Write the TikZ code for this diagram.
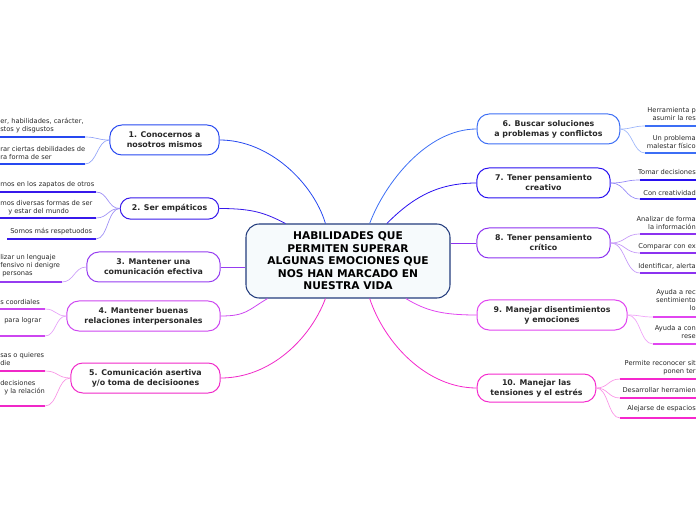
\documentclass[tikz,border=0pt]{standalone}
\usepackage{fontspec}
\setmainfont{DejaVu Sans}

\definecolor{ccore}{RGB}{35,60,125}
\definecolor{corefill}{RGB}{246,250,252}
\definecolor{cone}{RGB}{38,72,240}
\definecolor{ctwo}{RGB}{55,25,235}
\definecolor{cthree}{RGB}{150,60,240}
\definecolor{cfour}{RGB}{205,70,240}
\definecolor{cfive}{RGB}{240,40,200}
\definecolor{csix}{RGB}{60,110,245}
\definecolor{cseven}{RGB}{40,15,240}
\definecolor{ceight}{RGB}{140,50,240}
\definecolor{cnine}{RGB}{225,70,240}
\definecolor{cten}{RGB}{245,40,205}
\definecolor{inkgray}{RGB}{40,40,40}

\tikzset{
  core/.style={draw=ccore, fill=corefill, line width=0.8pt, rounded corners=10pt,
    minimum width=153pt, minimum height=55.5pt, align=center, text=black,
    font=\fontsize{8}{9.4}\selectfont\bfseries, inner sep=1pt},
  branch/.style={draw=#1, fill=white, line width=0.75pt, rounded corners=9pt,
    minimum height=22.5pt, align=center, text=inkgray,
    font=\fontsize{5.9}{7.5}\selectfont\bfseries, inner sep=1pt},
  leaf/.style={inner sep=0pt, text=inkgray, font=\fontsize{5}{6}\selectfont},
  link/.style={draw=#1, line width=0.6pt},
  twig/.style={draw=#1!50, line width=0.5pt},
  leafrule/.style={draw=#1, line width=1.4pt},
}

\begin{document}
\begin{tikzpicture}[x=0.75pt,y=0.75pt,yscale=-1,xscale=1]
\path[use as bounding box] (0,0) rectangle (696,520);

% Central Node
\node[core] (hab) at (348,261) {HABILIDADES QUE\\PERMITEN SUPERAR\\ALGUNAS EMOCIONES QUE\\NOS HAN MARCADO EN\\NUESTRA VIDA};

% Branch Nodes, left
\node[branch=cone, minimum width=82pt] (cono) at (164.5,140) {1. Conocernos a\\nosotros mismos};
\node[branch=ctwo, minimum width=74pt, minimum height=16pt, rounded corners=8pt] (empa) at (169.5,208.5) {2. Ser empáticos};
\node[branch=cthree, minimum width=100pt] (comu) at (153.5,267) {3. Mantener una\\comunicación efectiva};
\node[branch=cfour, minimum width=115pt] (rela) at (143.5,316) {4. Mantener buenas\\relaciones interpersonales};
\node[branch=cfive, minimum width=112pt] (aser) at (145.5,378) {5. Comunicación asertiva\\y/o toma de decisioones};
% Branch Nodes, right
\node[branch=csix, minimum width=107pt] (solu) at (548.5,129) {6. Buscar soluciones\\a problemas y conflictos};
\node[branch=cseven, minimum width=100pt] (crea) at (543.5,183) {7. Tener pensamiento\\creativo};
\node[branch=ceight, minimum width=100pt] (crit) at (543.5,243) {8. Tener pensamiento\\crítico};
\node[branch=cnine, minimum width=112.5pt] (dise) at (552,315) {9. Manejar disentimientos\\y emociones};
\node[branch=cten, minimum width=89pt, minimum height=21pt] (tens) at (536.5,388) {10. Manejar las\\tensiones y el estrés};

% Links from the centre
\draw[link=cone] (cono.east) .. controls +(50,0) and +(-12,-40) .. (hab.121);
\draw[link=ctwo] (empa.east) .. controls +(35,0) and +(-20,-10) .. (hab.149);
\draw[link=cthree] (comu.east) -- (comu.east -| hab.west);
\draw[link=cfour] (rela.east) .. controls +(25,0) and +(-20,12) .. (hab.205);
\draw[link=cfive] (aser.east) .. controls +(50,0) and +(-15,40) .. (hab.239);
\draw[link=csix] (hab.60) .. controls +(15,-40) and +(-50,0) .. (solu.west);
\draw[link=cseven] (hab.44) .. controls +(25,-25) and +(-40,0) .. (crea.west);
\draw[link=ceight] (crit.west -| hab.east) -- (crit.west);
\draw[link=cnine] (hab.-33) .. controls +(20,12) and +(-35,0) .. (dise.west);
\draw[link=cten] (hab.-60) .. controls +(15,45) and +(-50,0) .. (tens.west);

% Leaf ends
\coordinate (u1a) at (85,137);
\coordinate (u1b) at (85,164);
\coordinate (u2a) at (96,192);
\coordinate (u2b) at (96,218);
\coordinate (u2c) at (96,239);
\coordinate (u3a) at (62,282);
\coordinate (u4a) at (45,309);
\coordinate (u4b) at (45,336);
\coordinate (u5a) at (45,371);
\coordinate (u5b) at (45,406);
\coordinate (u6a) at (645,126);
\coordinate (u6b) at (645,153);
\coordinate (u7a) at (640,180);
\coordinate (u7b) at (640,199);
\coordinate (u8a) at (640,234);
\coordinate (u8b) at (640,253);
\coordinate (u8c) at (640,273);
\coordinate (u9a) at (653,317);
\coordinate (u9b) at (653,344);
\coordinate (u10a) at (620,379);
\coordinate (u10b) at (620,398);
\coordinate (u10c) at (620,418);

% Twigs, left
\draw[twig=cone] (cono.west) .. controls +(-12,0) and +(12,0) .. (u1a);
\draw[twig=cone] (cono.west) .. controls +(-12,0) and +(12,0) .. (u1b);
\draw[twig=ctwo] (empa.west) .. controls +(-12,0) and +(12,0) .. (u2a);
\draw[twig=ctwo] (empa.west) .. controls +(-12,0) and +(12,0) .. (u2b);
\draw[twig=ctwo] (empa.west) .. controls +(-12,0) and +(12,0) .. (u2c);
\draw[twig=cthree] (comu.west) .. controls +(-12,0) and +(12,0) .. (u3a);
\draw[twig=cfour] (rela.west) .. controls +(-11,0) and +(11,0) .. (u4a);
\draw[twig=cfour] (rela.west) .. controls +(-11,0) and +(11,0) .. (u4b);
\draw[twig=cfive] (aser.west) .. controls +(-13,0) and +(13,0) .. (u5a);
\draw[twig=cfive] (aser.west) .. controls +(-13,0) and +(13,0) .. (u5b);
% Twigs, right
\draw[twig=csix] (solu.east) .. controls +(12,0) and +(-12,0) .. (u6a);
\draw[twig=csix] (solu.east) .. controls +(12,0) and +(-12,0) .. (u6b);
\draw[twig=cseven] (crea.east) .. controls +(15,0) and +(-15,0) .. (u7a);
\draw[twig=cseven] (crea.east) .. controls +(15,0) and +(-15,0) .. (u7b);
\draw[twig=ceight] (crit.east) .. controls +(15,0) and +(-15,0) .. (u8a);
\draw[twig=ceight] (crit.east) .. controls +(15,0) and +(-15,0) .. (u8b);
\draw[twig=ceight] (crit.east) .. controls +(15,0) and +(-15,0) .. (u8c);
\draw[twig=cnine] (dise.east) .. controls +(13,0) and +(-13,0) .. (u9a);
\draw[twig=cnine] (dise.east) .. controls +(13,0) and +(-13,0) .. (u9b);
\draw[twig=cten] (tens.east) .. controls +(12,0) and +(-12,0) .. (u10a);
\draw[twig=cten] (tens.east) .. controls +(12,0) and +(-12,0) .. (u10b);
\draw[twig=cten] (tens.east) .. controls +(12,0) and +(-12,0) .. (u10c);

% Leaf rules
\draw[leafrule=cone] (u1a) -- ++(-85,0);
\draw[leafrule=cone] (u1b) -- ++(-85,0);
\draw[leafrule=ctwo] (u2a) -- ++(-96,0);
\draw[leafrule=ctwo] (u2b) -- ++(-96,0);
\draw[leafrule=ctwo] (u2c) -- ++(-89,0);
\draw[leafrule=cthree] (u3a) -- ++(-62,0);
\draw[leafrule=cfour] (u4a) -- ++(-45,0);
\draw[leafrule=cfour] (u4b) -- ++(-45,0);
\draw[leafrule=cfive] (u5a) -- ++(-45,0);
\draw[leafrule=cfive] (u5b) -- ++(-45,0);
\draw[leafrule=csix] (u6a) -- ++(51,0);
\draw[leafrule=csix] (u6b) -- ++(51,0);
\draw[leafrule=cseven] (u7a) -- ++(56,0);
\draw[leafrule=cseven] (u7b) -- ++(56,0);
\draw[leafrule=ceight] (u8a) -- ++(56,0);
\draw[leafrule=ceight] (u8b) -- ++(56,0);
\draw[leafrule=ceight] (u8c) -- ++(56,0);
\draw[leafrule=cnine] (u9a) -- ++(43,0);
\draw[leafrule=cnine] (u9b) -- ++(43,0);
\draw[leafrule=cten] (u10a) -- ++(76,0);
\draw[leafrule=cten] (u10b) -- ++(76,0);
\draw[leafrule=cten] (u10c) -- ++(76,0);

% Text Nodes, left leaves
\node[leaf, anchor=west, align=left] (t1a) at (0,125.5) {er, habilidades, carácter,\\stos y disgustos};
\node[leaf, anchor=west, align=left] (t1b) at (0,153) {rar ciertas debilidades de\\ra forma de ser};
\node[leaf, anchor=west] (t2a) at (0,185) {rnos en los zapatos de otros};
\node[leaf, anchor=west, align=left] (t2b) at (0,208) {mos diversas formas de ser\\\hspace*{6pt}y estar del mundo};
\node[leaf, anchor=west] (t2c) at (10,232) {Somos más respetuodos};
\node[leaf, anchor=west, align=left] (t3a) at (0,266) {lizar un lenguaje\\fensivo ni denigre\\\hspace*{1.5pt}personas};
\node[leaf, anchor=west] (t4a) at (0,302) {s coordiales};
\node[leaf, anchor=west] (t4b) at (4,321) {para lograr};
\node[leaf, anchor=west, align=left] (t5a) at (0,359) {sas o quieres\\die};
\node[leaf, anchor=west, align=left] (t5b) at (0,387.5) {decisiones\\\hspace*{3pt}y la relación};
% Text Nodes, right leaves
\node[leaf, anchor=east, align=right] (t6a) at (696,114) {Herramienta p\\asumir la res};
\node[leaf, anchor=east, align=right] (t6b) at (696,142) {Un problema\\malestar físico};
\node[leaf, anchor=east] (t7a) at (696,172) {Tomar decisiones};
\node[leaf, anchor=east] (t7b) at (696,193) {Con creatividad};
\node[leaf, anchor=east, align=right] (t8a) at (696,223) {Analizar de forma\\la información};
\node[leaf, anchor=east] (t8b) at (696,247) {Comparar con ex};
\node[leaf, anchor=east] (t8c) at (696,266) {Identificar, alerta};
\node[leaf, anchor=east, align=right] (t9a) at (696,300) {Ayuda a rec\\sentimiento\\lo};
\node[leaf, anchor=east, align=right] (t9b) at (696,332) {Ayuda a con\\rese};
\node[leaf, anchor=east, align=right] (t10a) at (696,367.5) {Permite reconocer sit\\ponen ter};
\node[leaf, anchor=east] (t10b) at (696,390) {Desarrollar herramien};
\node[leaf, anchor=east] (t10c) at (696,409) {Alejarse de espacios};

\end{tikzpicture}
\end{document}
